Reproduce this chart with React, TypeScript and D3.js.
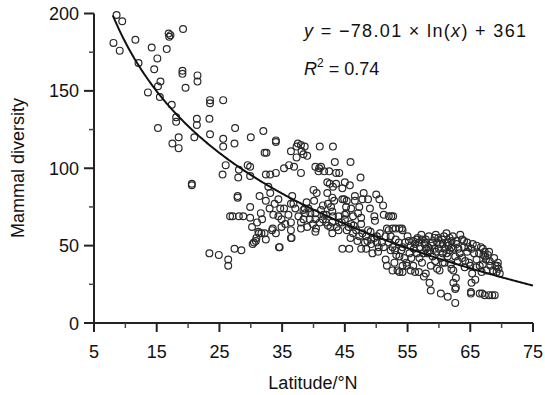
import React from "react";
import * as d3 from "d3";

const latitude: number[] = [
  8.6, 9.5, 8.1, 9.1, 11.6, 12.1, 14.2, 14.6, 15.1, 13.6, 15.6, 15.2, 15.5, 15.2, 16.9, 17.2, 17.0, 16.6, 19.2, 19.1,
  19.1, 19.6, 21.5, 21.5, 17.4, 18.1, 18.1, 18.5, 18.5, 17.5, 21.4, 21.4, 21.0, 20.6, 20.6, 23.5, 23.5, 25.6, 23.4, 23.5,
  25.6, 25.6, 27.5, 27.4, 26.0, 25.5, 28.1, 28.0, 29.5, 29.9, 30.0, 29.9, 32.0, 32.2, 32.5, 32.4, 33.1, 34.0, 34.0, 34.0,
  27.9, 27.9, 26.7, 27.1, 28.8, 28.1, 29.9, 29.9, 31.4, 32.4, 32.8, 33.1, 31.6, 31.8, 31.2, 31.3, 30.9, 30.8, 30.5, 30.3,
  31.7, 32.2, 32.4, 33.5, 33.4, 34.0, 34.4, 33.8, 34.4, 34.7, 35.3, 34.9, 34.5, 35.3, 36.1, 36.9, 36.4, 37.5, 37.3, 38.0,
  38.1, 38.4, 38.6, 39.0, 37.3, 38.0, 36.6, 36.4, 37.1, 36.8, 38.4, 38.6, 38.7, 38.4, 38.0, 38.0, 36.4, 36.4, 36.4, 40.1,
  40.5, 40.0, 40.3, 40.9, 41.2, 40.8, 41.0, 41.7, 42.5, 43.1, 43.4, 43.6, 44.1, 42.2, 42.6, 43.1, 43.0, 44.6, 45.0, 45.8,
  45.9, 47.5, 45.3, 44.9, 45.2, 45.2, 46.6, 46.6, 48.0, 46.4, 47.1, 47.8, 47.3, 47.6, 47.6, 48.7, 49.0, 49.7, 49.8, 50.0,
  50.5, 51.1, 51.2, 52.0, 52.4, 52.7, 51.7, 52.0, 52.6, 53.1, 53.7, 54.1, 54.2, 50.6, 49.7, 48.4, 47.8, 47.6, 48.4, 49.4,
  50.4, 50.9, 50.1, 51.5, 51.7, 52.6, 52.9, 53.4, 53.7, 54.2, 54.2, 54.8, 54.5, 53.7, 53.0, 52.6, 54.2, 54.6, 55.2, 55.9,
  56.4, 56.8, 55.6, 55.9, 56.2, 56.8, 57.6, 58.5, 58.7, 60.3, 61.4, 62.6, 62.3, 62.7, 62.6, 62.7, 62.3, 62.0, 58.7, 59.7,
  60.1, 60.6, 60.3, 59.5, 59.3, 59.0, 59.3, 59.9, 60.5, 61.2, 61.7, 62.0, 62.3, 61.7, 61.2, 60.6, 61.4, 62.6, 63.1, 63.3,
  63.7, 64.0, 64.5, 64.2, 64.8, 65.0, 65.2, 65.6, 66.0, 66.4, 67.0, 67.3, 67.1, 67.5, 67.8, 68.1, 68.2, 66.5, 66.8, 67.6,
  68.6, 69.0, 69.4, 69.5, 69.7, 69.2, 65.3, 65.8, 65.2, 65.1, 65.1, 66.5, 66.9, 67.3, 68.0, 68.5, 68.9, 57.9, 58.3, 58.2,
  57.5, 57.9, 57.3, 57.9, 56.5, 57.0, 60.6, 61.4, 60.0, 58.6, 59.0, 60.9, 60.9, 23.4, 24.9, 26.4, 26.4, 27.4, 28.5, 34.6,
  36.5, 40.3, 40.3, 40.4, 40.3, 41.2, 41.6, 41.5, 42.0, 42.3, 42.7, 43.0, 43.1, 43.0, 43.7, 44.1, 44.0, 44.5, 45.0, 45.6,
  45.3, 45.9, 46.3, 44.6, 45.7, 46.8, 47.3, 39.4, 39.5, 39.2, 41.5, 42.3, 42.8, 43.3, 42.2, 43.6, 44.6, 46.0, 46.3, 48.7,
  49.1, 49.2, 50.1, 48.6, 51.5, 52.3, 53.1, 53.6, 52.0, 56.2, 57.3, 57.7, 59.7, 62.0, 62.8, 63.7, 64.5, 54.9, 55.5,
  55.0, 55.5, 56.0, 56.6, 57.2, 57.8, 58.4, 58.9, 59.5, 60.2, 60.8, 61.5, 62.2, 62.8, 63.4, 64.0, 64.7, 65.4, 66.0, 66.7,
  67.4, 68.0, 68.8, 69.3, 63.0, 64.1, 65.9, 67.0, 61.9, 59.4, 56.9, 55.3, 54.0, 53.2, 52.3, 51.2, 50.3, 49.2, 48.2, 47.0,
  46.0, 45.0, 44.0, 43.0, 42.0, 41.0, 39.9, 39.0, 38.9, 37.6, 36.0, 35.5, 34.9, 33.6, 33.0, 31.0, 30.2
];

const diversity: number[] = [
  199, 195, 181, 176, 183, 168, 178, 164, 171, 149, 156, 153, 146, 126, 187, 186, 185, 177, 190, 163,
  161, 152, 160, 156, 141, 133, 130, 120, 113, 116, 132, 128, 120, 90, 89, 144, 142, 144, 132, 122,
  119, 114, 126, 116, 102, 96, 99, 94, 102, 101, 120, 95, 124, 110, 110, 96, 96, 97, 118, 117,
  82, 81, 69, 69, 69, 69, 75, 68, 82, 79, 88, 84, 71, 67, 59, 58, 55, 53, 52, 51,
  58, 58, 54, 61, 60, 58, 69, 77, 80, 74, 74, 67, 49, 100, 102, 101, 111, 116, 114, 115,
  111, 109, 114, 108, 107, 97, 82, 77, 74, 77, 73, 74, 71, 67, 65, 61, 65, 60, 55, 79,
  84, 86, 101, 100, 101, 98, 114, 98, 98, 114, 104, 90, 97, 91, 90, 88, 81, 87, 91, 89,
  104, 94, 79, 80, 75, 71, 82, 79, 84, 63, 71, 80, 75, 68, 64, 80, 74, 69, 66, 83,
  80, 76, 70, 69, 69, 69, 61, 60, 61, 61, 61, 61, 60, 58, 55, 56, 58, 48, 48, 45,
  49, 52, 52, 41, 37, 34, 39, 34, 33, 33, 37, 39, 42, 43, 47, 49, 49, 52, 53, 53,
  54, 52, 42, 37, 33, 33, 30, 26, 21, 19, 17, 13, 26, 23, 22, 29, 34, 35, 37, 35,
  34, 39, 42, 46, 48, 52, 55, 55, 54, 58, 55, 53, 48, 47, 45, 45, 43, 43, 48, 45,
  42, 49, 46, 40, 39, 37, 48, 45, 41, 45, 48, 46, 44, 41, 44, 40, 37, 37, 33, 34,
  34, 37, 39, 35, 32, 33, 32, 28, 26, 20, 19, 19, 19, 18, 18, 18, 18, 54, 49, 45,
  45, 48, 39, 32, 45, 49, 51, 52, 48, 47, 43, 48, 39, 45, 44, 41, 37, 48, 47, 49,
  55, 71, 67, 61, 59, 73, 70, 67, 65, 63, 62, 65, 69, 72, 62, 65, 60, 65, 67, 62,
  60, 55, 58, 48, 48, 60, 56, 67, 71, 74, 76, 77, 75, 79, 84, 97, 80, 74, 69, 60,
  59, 54, 56, 53, 56, 56, 54, 52, 52, 51, 54, 51, 52, 49, 53, 54, 52, 37, 34,
  56, 50, 48, 55, 57, 52, 56, 50, 57, 51, 56, 50, 56, 51, 57, 53, 49, 51, 50, 49,
  43, 46, 42, 37, 40, 36, 36, 38, 38, 40, 42, 45, 47, 44, 47, 49, 46, 51, 52, 53,
  64, 70, 69, 58, 70, 65, 64, 62, 78, 69, 70, 64, 62, 70, 74, 65, 62
];

const xTicks: number[] = [5, 15, 25, 35, 45, 55, 65, 75];
const xMinorTicks: number[] = [10, 20, 30, 40, 50, 60, 70];
const yTicks: number[] = [0, 50, 100, 150, 200];
const yMinorTicks: number[] = [25, 75, 125, 175];
const fitA = -78.01;
const fitB = 361;

export default function App() {
  const W = 545, H = 395;
  const x = d3.scaleLinear().domain([5, 75]).range([94, 533]);
  const y = d3.scaleLinear().domain([0, 200]).range([323, 13.5]);
  const pts = latitude.map((v, i) => [v, diversity[i]] as [number, number]);
  const fitXs = d3.range(8, 75.01, 0.25);
  const line = d3.line<number>().x((d) => x(d)).y((d) => y(fitA * Math.log(d) + fitB));
  const font = "'Liberation Sans', Arial, Helvetica, sans-serif";
  return (
    <svg width={W} height={H} style={{ position: "absolute", left: 0, top: 0, background: "#fff" }} fontFamily={font}>
      <rect x={0} y={0} width={W} height={H} fill="#fff" />
      <line x1={x(5)} x2={x(75)} y1={y(0)} y2={y(0)} stroke="#222" strokeWidth={2} />
      <line x1={x(5)} x2={x(5)} y1={y(0)} y2={y(200)} stroke="#222" strokeWidth={2} />
      {xTicks.map((t) => (
        <g key={"xt" + t}>
          <line x1={x(t)} x2={x(t)} y1={y(0)} y2={y(0) + 9} stroke="#222" strokeWidth={2} />
          <text x={x(t)} y={358} textAnchor="middle" fontSize={18} fill="#111">{t}</text>
        </g>
      ))}
      {xMinorTicks.map((t) => (
        <line key={"xm" + t} x1={x(t)} x2={x(t)} y1={y(0)} y2={y(0) + 5} stroke="#444" strokeWidth={1.5} />
      ))}
      {yTicks.map((t) => (
        <g key={"yt" + t}>
          <line x1={x(5) - 10} x2={x(5)} y1={y(t)} y2={y(t)} stroke="#222" strokeWidth={2} />
          <text x={x(5) - 15} y={y(t) + 6.5} textAnchor="end" fontSize={18} fill="#111">{t}</text>
        </g>
      ))}
      {yMinorTicks.map((t) => (
        <line key={"ym" + t} x1={x(5) - 5} x2={x(5)} y1={y(t)} y2={y(t)} stroke="#444" strokeWidth={1.5} />
      ))}
      {pts.map((p, i) => (
        <circle key={i} cx={x(p[0])} cy={y(p[1])} r={3.4} fill="none" stroke="#2a2a2a" strokeWidth={1.2} />
      ))}
      <path d={line(fitXs) || ""} fill="none" stroke="#111" strokeWidth={2} />
      <text x={313} y={389} textAnchor="middle" fontSize={18} fill="#111">Latitude/°N</text>
      <text transform="translate(24,168) rotate(-90)" textAnchor="middle" fontSize={18} fill="#111">Mammal diversity</text>
      <text x={304} y={37} fontSize={18} fill="#111" textLength={222} lengthAdjust="spacing">
        <tspan fontStyle="italic">y</tspan> = −78.01 × ln(<tspan fontStyle="italic">x</tspan>) + 361
      </text>
      <text x={304} y={75} fontSize={18} fill="#111">
        <tspan fontStyle="italic">R</tspan>
        <tspan fontSize={12} dy={-8}>2</tspan>
        <tspan dy={8}> = 0.74</tspan>
      </text>
    </svg>
  );
}
